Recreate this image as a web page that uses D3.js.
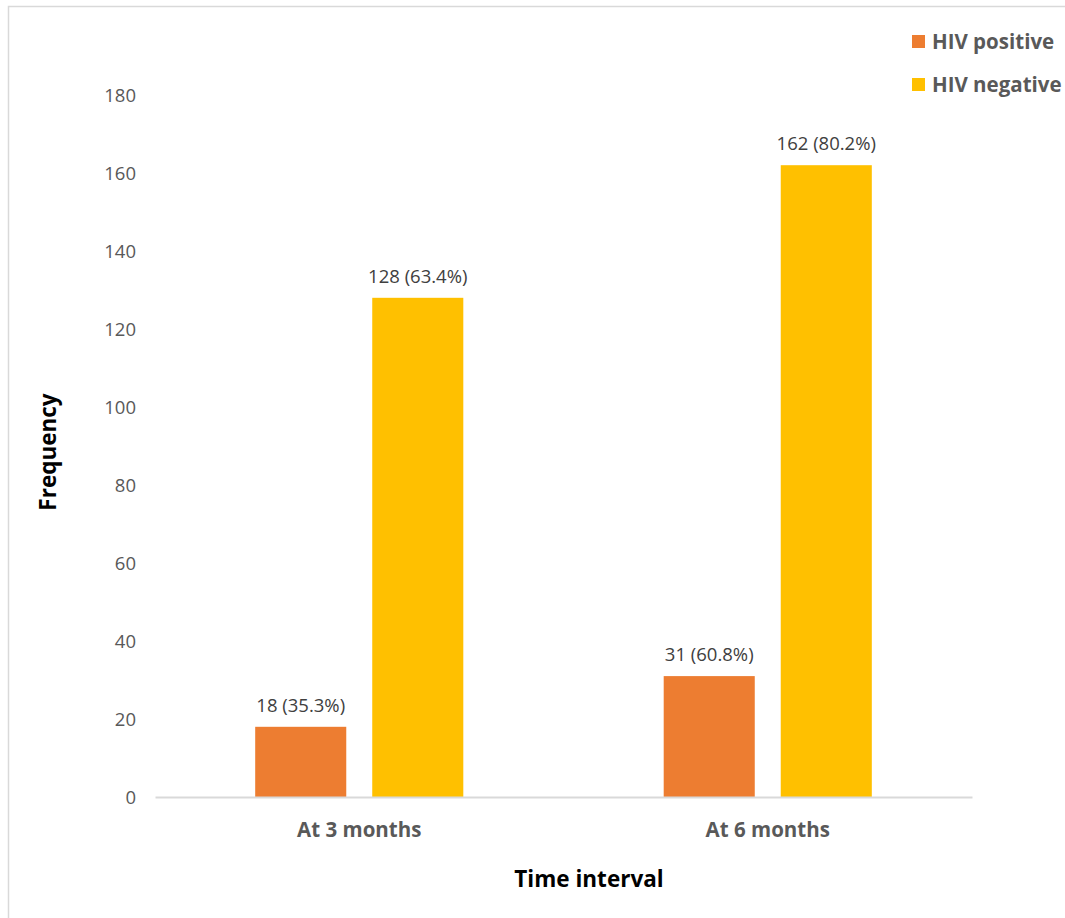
<!DOCTYPE html>
<html>
<head>
<meta charset="utf-8">
<script src="https://cdn.jsdelivr.net/npm/d3@7"></script>
<style>
  html, body { margin: 0; padding: 0; background: #fff; }
  svg { display: block; }
  text { font-family: "Open Sans", "Noto Sans", "Liberation Sans", sans-serif; }
</style>
</head>
<body>
<svg id="chart" width="1065" height="918"></svg>
<script>
// Chart data
const categories = ["At 3 months", "At 6 months"];
const seriesNames = ["HIV positive", "HIV negative"];
const hivPositive = [18, 31];
const hivNegative = [128, 162];
const positivePct = ["35.3%", "60.8%"];
const negativePct = ["63.4%", "80.2%"];
const yTicks = [0, 20, 40, 60, 80, 100, 120, 140, 160, 180];

const colors = { "HIV positive": "#ED7D31", "HIV negative": "#FFC000" };

const svg = d3.select("#chart");
const W = 1065, H = 918;

// Outer chart-area border
svg.append("rect")
  .attr("x", 8.5).attr("y", 6.5)
  .attr("width", W + 10).attr("height", H + 10)
  .attr("fill", "#fff").attr("stroke", "#d9d9d9").attr("stroke-width", 1.5);

const plot = { left: 155, right: 972, top: 95, bottom: 797 };

const x0 = d3.scaleBand().domain(categories).range([plot.left, plot.right]).paddingInner(0).paddingOuter(0);
const x1 = d3.scaleBand().domain(seriesNames).range([0, x0.bandwidth()]).paddingInner(0.222).paddingOuter(0.856);
const y = d3.scaleLinear().domain([0, 180]).range([plot.bottom, plot.top]);

// Y axis tick labels (no axis line)
const yAxis = d3.axisLeft(y).tickValues(yTicks).tickSize(0).tickPadding(0);
const yG = svg.append("g").attr("transform", `translate(${plot.left - 19},0)`).call(yAxis);
yG.select(".domain").remove();
yG.selectAll("text")
  .attr("fill", "#595959").attr("font-size", 18.5)
  .attr("text-anchor", "end").attr("dy", "0.35em");

// Rows of bar data
const rows = categories.map((c, i) => ({
  category: c,
  bars: [
    { name: "HIV positive", value: hivPositive[i], pct: positivePct[i] },
    { name: "HIV negative", value: hivNegative[i], pct: negativePct[i] }
  ]
}));

const groups = svg.append("g").selectAll("g").data(rows).join("g")
  .attr("transform", d => `translate(${x0(d.category)},0)`);

groups.selectAll("rect").data(d => d.bars).join("rect")
  .attr("x", d => x1(d.name))
  .attr("y", d => y(d.value))
  .attr("width", x1.bandwidth())
  .attr("height", d => y(0) - y(d.value))
  .attr("fill", d => colors[d.name]);

groups.selectAll("text.val").data(d => d.bars).join("text")
  .attr("class", "val")
  .attr("x", d => x1(d.name) + x1.bandwidth() / 2)
  .attr("y", d => y(d.value) - 15)
  .attr("text-anchor", "middle")
  .attr("fill", "#404040").attr("font-size", 18.5)
  .text(d => `${d.value} (${d.pct})`);

// X axis baseline and category labels
const xAxis = d3.axisBottom(x0).tickSize(0).tickPadding(25);
const xG = svg.append("g").attr("transform", `translate(0,${plot.bottom})`).call(xAxis);
xG.select(".domain").attr("stroke", "#d9d9d9").attr("stroke-width", 2);
xG.selectAll("text")
  .attr("fill", "#595959").attr("font-size", 20.5).attr("font-weight", "bold");

// Axis titles
svg.append("text")
  .attr("x", 589).attr("y", 887)
  .attr("text-anchor", "middle")
  .attr("font-size", 22.5).attr("font-weight", "bold").attr("fill", "#000")
  .text("Time interval");

svg.append("text")
  .attr("transform", "translate(56,452) rotate(-90)")
  .attr("text-anchor", "middle")
  .attr("font-size", 22.5).attr("font-weight", "bold").attr("fill", "#000")
  .text("Frequency");

// Legend
const legend = svg.append("g").selectAll("g").data(seriesNames).join("g")
  .attr("transform", (d, i) => `translate(912,${35 + i * 43})`);
legend.append("rect").attr("width", 13).attr("height", 13).attr("fill", d => colors[d]);
legend.append("text")
  .attr("x", 20).attr("y", 6.5).attr("dy", "0.35em")
  .attr("font-size", 20.5).attr("font-weight", "bold").attr("fill", "#595959")
  .text(d => d);
</script>
</body>
</html>
